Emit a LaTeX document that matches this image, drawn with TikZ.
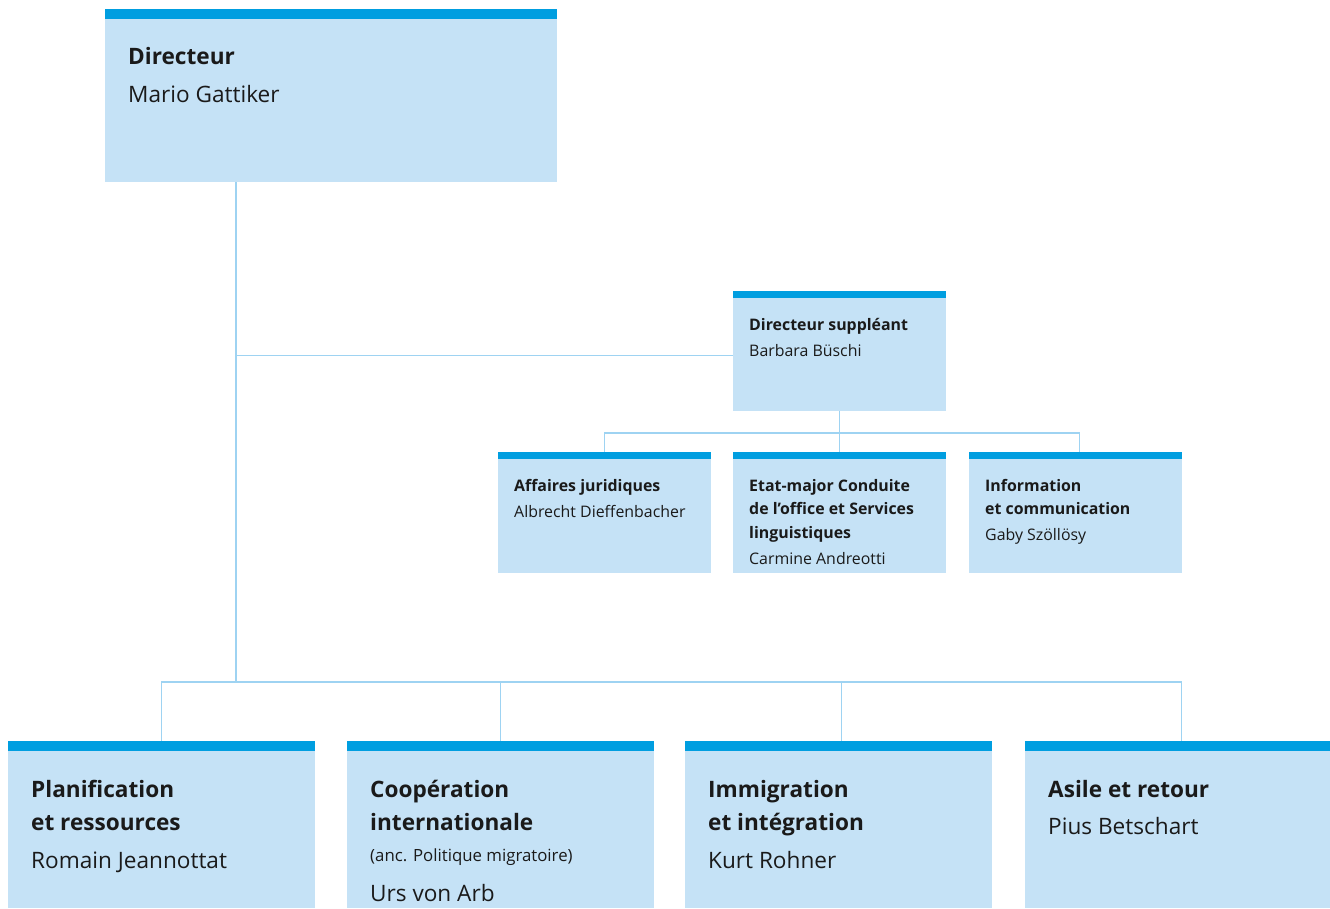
\documentclass[tikz,border=0pt]{standalone}
\usepackage{fontspec}
\setmainfont{Open Sans}
\usepackage{xcolor}
\usepackage{tikz}

\definecolor{boxfill}{RGB}{197,226,246}
\definecolor{barblue}{RGB}{0,158,224}
\definecolor{linkblue}{RGB}{158,211,242}
\definecolor{ink}{RGB}{26,26,26}

\tikzset{
  unitbox/.style={rectangle, fill=boxfill, inner sep=0pt, anchor=north west,
    path picture={\fill[barblue] (path picture bounding box.north west) rectangle ([yshift=-#1]path picture bounding box.north east);}},
  unittext/.style={anchor=base west, inner sep=0pt, text=ink},
  link/.style={draw=linkblue, line width=1.4pt},
}

\begin{document}
\begin{tikzpicture}[x=1pt, y=-1pt]
\useasboundingbox (0,0) rectangle (1330,908);

% direction
\node[unitbox=10pt, minimum width=452pt, minimum height=173pt] (dir) at (105,9) {};
\node[unittext] (dirtxt) at (128,64) {\parbox[t]{400pt}{\fontsize{22.6}{33}\selectfont\bfseries Directeur\par\fontsize{22.6}{38}\selectfont\mdseries Mario Gattiker}};

% suppleance + etat-major
\node[unitbox=7pt, minimum width=213pt, minimum height=120pt] (dep) at (733,291) {};
\node[unittext] (deptxt) at (749,330) {\parbox[t]{190pt}{\fontsize{15.9}{26}\selectfont\bfseries Directeur suppléant\par\mdseries Barbara Büschi}};

\node[unitbox=7pt, minimum width=213pt, minimum height=121pt] (aff) at (498,452) {};
\node[unittext] (afftxt) at (514,491) {\parbox[t]{195pt}{\fontsize{15.9}{26}\selectfont\bfseries Affaires juridiques\par\mdseries Albrecht Dieffenbacher}};

\node[unitbox=7pt, minimum width=213pt, minimum height=121pt] (etat) at (733,452) {};
\node[unittext] (etattxt) at (749,491) {\parbox[t]{195pt}{\fontsize{15.9}{23.5}\selectfont\bfseries Etat-major Conduite\\de l’office et Services\\linguistiques\par\fontsize{15.9}{26}\selectfont\mdseries Carmine Andreotti}};

\node[unitbox=7pt, minimum width=213pt, minimum height=121pt] (info) at (969,452) {};
\node[unittext] (infotxt) at (985,491) {\parbox[t]{195pt}{\fontsize{15.9}{23.5}\selectfont\bfseries Information\\et communication\par\fontsize{15.9}{26}\selectfont\mdseries Gaby Szöllösy}};

% domaines de direction
\node[unitbox=10pt, minimum width=307pt, minimum height=167pt] (plan) at (8,741) {};
\node[unittext] (plantxt) at (31,797) {\parbox[t]{280pt}{\fontsize{22.6}{33}\selectfont\bfseries Planification\\et ressources\par\fontsize{22.6}{38}\selectfont\mdseries Romain Jeannottat}};

\node[unitbox=10pt, minimum width=307pt, minimum height=167pt] (coop) at (347,741) {};
\node[unittext] (cooptxt) at (370,797) {\parbox[t]{280pt}{\fontsize{22.6}{33}\selectfont\bfseries Coopération\\internationale\par\fontsize{16.8}{31}\selectfont\mdseries (anc. Politique migratoire)\par\fontsize{22.6}{40}\selectfont Urs von Arb}};

\node[unitbox=10pt, minimum width=307pt, minimum height=167pt] (imm) at (685,741) {};
\node[unittext] (immtxt) at (708,797) {\parbox[t]{280pt}{\fontsize{22.6}{33}\selectfont\bfseries Immigration\\et intégration\par\fontsize{22.6}{38}\selectfont\mdseries Kurt Rohner}};

\node[unitbox=10pt, minimum width=305pt, minimum height=167pt] (asile) at (1025,741) {};
\node[unittext] (asiletxt) at (1048,797) {\parbox[t]{280pt}{\fontsize{22.6}{33}\selectfont\bfseries Asile et retour\par\fontsize{22.6}{37}\selectfont\mdseries Pius Betschart}};

% liaisons
\coordinate (spine) at (236,682);
\coordinate (depin) at ([yshift=-4pt]dep.west);
\coordinate (infoin) at ([xshift=4pt]info.north);
\coordinate (asilein) at ([xshift=4pt]asile.north);
\draw[link] (spine |- dir.south) -- (spine);
\draw[link] (spine |- depin) -- (depin);
\draw[link] (dep.south) -- (etat.north);
\coordinate (dbus) at (840,433);
\draw[link] (aff.north) |- (dbus) -| (infoin);
\draw[link] (plan.north) |- (spine) -| (asilein);
\draw[link] (coop.north) -- (coop.north |- spine);
\draw[link] ([xshift=3pt]imm.north) -- ([xshift=3pt]imm.north |- spine);
\end{tikzpicture}
\end{document}
